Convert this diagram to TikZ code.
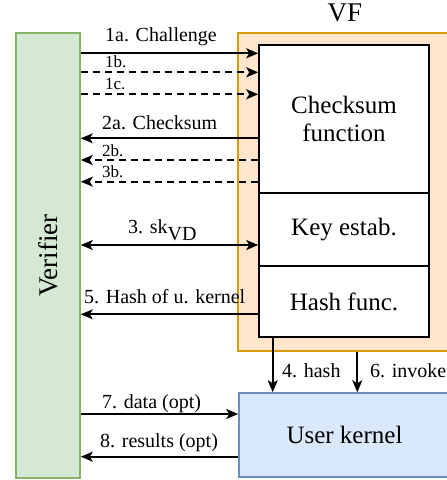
\documentclass[tikz,border=0pt]{standalone}
\usepackage{fontspec}
\setmainfont{Liberation Serif}
\newfontfamily\tms{Liberation Serif}
\usetikzlibrary{arrows.meta}
\definecolor{vgreen}{HTML}{D5E8D4}
\definecolor{vgreenD}{HTML}{82B366}
\definecolor{vorange}{HTML}{FFE6CC}
\definecolor{vorangeD}{HTML}{D79B00}
\definecolor{ublue}{HTML}{DAE8FC}
\definecolor{ublueD}{HTML}{6C8EBF}
\begin{document}
\begin{tikzpicture}[x=1pt,y=-1pt,
  box/.style={draw, line width=1.6pt, inner sep=0pt, align=center, font=\tms\fontsize{25}{28}\selectfont},
  arr/.style={line width=1.8pt, -{Stealth[length=12pt,width=10pt,inset=3pt]}},
  darr/.style={line width=1.8pt, {Stealth[length=12pt,width=10pt,inset=3pt]}-{Stealth[length=12pt,width=10pt,inset=3pt]}},
  dsh/.style={dash pattern=on 7pt off 5pt},
  lbl/.style={anchor=base west, inner sep=0pt, font=\tms\fontsize{20}{24}\selectfont},
  slbl/.style={anchor=base west, inner sep=0pt, font=\tms\fontsize{17}{20}\selectfont}]
\useasboundingbox (0,0) rectangle (447,480);

% boxes
\node[box, fill=vgreen, draw=vgreenD, minimum width=64pt, minimum height=445pt, font=\tms\fontsize{27}{30}\selectfont] (verifier) at (48,255.5) {\rotatebox{90}{Verifier}};
\node[box, fill=vorange, draw=vorangeD, minimum width=212pt, minimum height=318pt] (vf) at (344,192) {};
\node[anchor=base, inner sep=0pt, font=\tms\fontsize{27}{30}\selectfont] (vflabel) at (345,21) {VF};
\node[box, fill=white, minimum width=170pt, minimum height=148pt] (cs) at (344,119) {Checksum\\function};
\node[box, fill=white, minimum width=170pt, minimum height=73pt] (ke) at (344,229.5) {Key estab.};
\node[box, fill=white, minimum width=170pt, minimum height=71pt] (hf) at (344,301.5) {Hash func.};
\node[box, fill=ublue, draw=ublueD, minimum width=211pt, minimum height=84pt] (uk) at (344.5,435) {User kernel};

% levels
\coordinate (y1a) at (0,53.3);
\coordinate (y1b) at (0,72.3);
\coordinate (y1c) at (0,94.3);
\coordinate (y2a) at (0,138.3);
\coordinate (y2b) at (0,160);
\coordinate (y3b) at (0,181.7);
\coordinate (y3) at (0,245);
\coordinate (y5) at (0,314.3);
\coordinate (y7) at (0,414);
\coordinate (y8) at (0,456.7);
\coordinate (x4) at (272.7,0);
\coordinate (x6) at (357.3,0);

% connectors
\draw[arr] (verifier.east |- y1a) -- (cs.west |- y1a);
\draw[arr,dsh] (verifier.east |- y1b) -- (cs.west |- y1b);
\draw[arr,dsh] (verifier.east |- y1c) -- (cs.west |- y1c);
\draw[arr] (cs.west |- y2a) -- (verifier.east |- y2a);
\draw[arr,dsh] (cs.west |- y2b) -- (verifier.east |- y2b);
\draw[arr,dsh] (cs.west |- y3b) -- (verifier.east |- y3b);
\draw[darr] (verifier.east |- y3) -- (ke.west |- y3);
\draw[arr] (hf.west |- y5) -- (verifier.east |- y5);
\draw[arr] (hf.south -| x4) -- (uk.north -| x4);
\draw[arr] (vf.south -| x6) -- (uk.north -| x6);
\draw[arr] (verifier.east |- y7) -- (uk.west |- y7);
\draw[arr] (uk.west |- y8) -- (verifier.east |- y8);

% labels
\node[lbl] (l1a) at (105,41) {1a. Challenge};
\node[slbl] (l1b) at (105,67) {1b.};
\node[slbl] (l1c) at (105,89) {1c.};
\node[lbl] (l2a) at (102,129) {2a. Checksum};
\node[slbl] (l2b) at (102,156) {2b.};
\node[slbl] (l3b) at (102,177) {3b.};
\node[lbl] (l3) at (128,233) {3. sk\raisebox{-7pt}{VD}};
\node[lbl] (l5) at (84,303) {5. Hash of u. kernel};
\node[lbl] (l7) at (102,408) {7. data (opt)};
\node[lbl] (l8) at (100,447) {8. results (opt)};
\node[lbl] (l4) at (282,377) {4. hash};
\node[lbl] (l6) at (370,377) {6. invoke};
\end{tikzpicture}
\end{document}
